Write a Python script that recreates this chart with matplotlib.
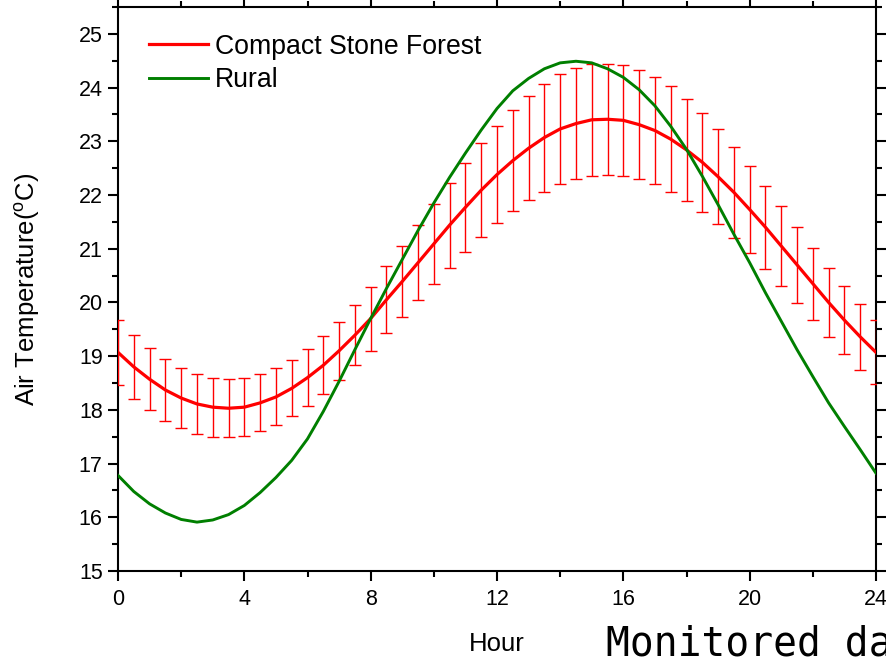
import numpy as np
import matplotlib
matplotlib.use("Agg")
import matplotlib.pyplot as plt
from matplotlib.ticker import MultipleLocator
from matplotlib.lines import Line2D

plt.rcParams['font.family'] = ['Liberation Sans', 'DejaVu Sans']
plt.rcParams['mathtext.fontset'] = 'custom'
plt.rcParams['mathtext.rm'] = 'Liberation Sans'

# half-hourly observations
hours = np.arange(0, 24.5, 0.5)

stone_forest_mean = [
    19.07, 18.80, 18.57, 18.37, 18.22, 18.11, 18.05, 18.03, 18.05, 18.13,
    18.24, 18.40, 18.60, 18.83, 19.10, 19.39, 19.70, 20.05, 20.39, 20.74,
    21.09, 21.44, 21.77, 22.09, 22.38, 22.64, 22.87, 23.07, 23.23, 23.33,
    23.40, 23.41, 23.39, 23.31, 23.20, 23.04, 22.84, 22.61, 22.34, 22.05,
    21.73, 21.40, 21.05, 20.70, 20.35, 20.00, 19.67, 19.36, 19.07,
]
stone_forest_err = [
    0.60, 0.59, 0.58, 0.575, 0.565, 0.565, 0.55, 0.54, 0.535, 0.53,
    0.53, 0.52, 0.53, 0.54, 0.54, 0.56, 0.595, 0.62, 0.66, 0.695,
    0.745, 0.79, 0.83, 0.87, 0.91, 0.945, 0.97, 1.005, 1.025, 1.03,
    1.04, 1.035, 1.035, 1.015, 1.00, 0.98, 0.95, 0.92, 0.88, 0.845,
    0.81, 0.775, 0.74, 0.705, 0.67, 0.65, 0.63, 0.615, 0.595,
]
rural = [
    16.78, 16.48, 16.25, 16.08, 15.96, 15.91, 15.95, 16.05, 16.22, 16.46,
    16.74, 17.06, 17.46, 17.97, 18.53, 19.12, 19.70, 20.26, 20.80, 21.34,
    21.85, 22.33, 22.78, 23.21, 23.61, 23.94, 24.17, 24.35, 24.46, 24.49,
    24.46, 24.35, 24.19, 23.96, 23.66, 23.28, 22.85, 22.35, 21.82, 21.27,
    20.74, 20.18, 19.65, 19.12, 18.62, 18.13, 17.69, 17.26, 16.82,
]

RED = '#ff0000'
GREEN = '#007f00'

fig = plt.figure(figsize=(8.87, 6.57), dpi=100)
ax = fig.add_axes([118 / 887, 1 - 571 / 657, (876 - 118) / 887, (571 - 7) / 657])

ax.errorbar(hours, stone_forest_mean, yerr=stone_forest_err, color=RED,
            lw=2.3, elinewidth=1.0, capsize=4, capthick=1.0, zorder=3)
ax.plot(hours, rural, color=GREEN, lw=2.1, zorder=4)

ax.set_xlim(0, 24)
ax.set_ylim(15, 25.5)
ax.xaxis.set_major_locator(MultipleLocator(4))
ax.xaxis.set_minor_locator(MultipleLocator(2))
ax.yaxis.set_major_locator(MultipleLocator(1))
ax.yaxis.set_minor_locator(MultipleLocator(0.5))

for s in ax.spines.values():
    s.set_linewidth(1.5)

ax.tick_params(which='both', direction='out', width=1.5, labelsize=15.5,
               top=True, right=True)
ax.tick_params(which='major', length=7)
ax.tick_params(which='minor', length=4)
ax.tick_params(axis='x', pad=6)
ax.tick_params(axis='y', pad=4)

ax.set_xlabel('Hour', fontsize=18.5, labelpad=16)
ax.set_ylabel('Air Temperature($\\mathregular{^{o}}$C)', fontsize=18.5, labelpad=26)

handles = [Line2D([], [], color=RED, lw=2.3),
           Line2D([], [], color=GREEN, lw=2.1)]
ax.legend(handles, ['Compact Stone Forest', 'Rural'],
          loc='upper left', bbox_to_anchor=(0.006, 1.0), frameon=False,
          fontsize=19.2, handlelength=2.2, handletextpad=0.28,
          labelspacing=0.27, borderpad=0.5)

fig.text(606 / 887, 1 - 655 / 657, 'Monitored data', fontsize=28.5,
         family='DejaVu Sans Mono', ha='left', va='baseline')

fig.savefig('out.png', dpi=100)
